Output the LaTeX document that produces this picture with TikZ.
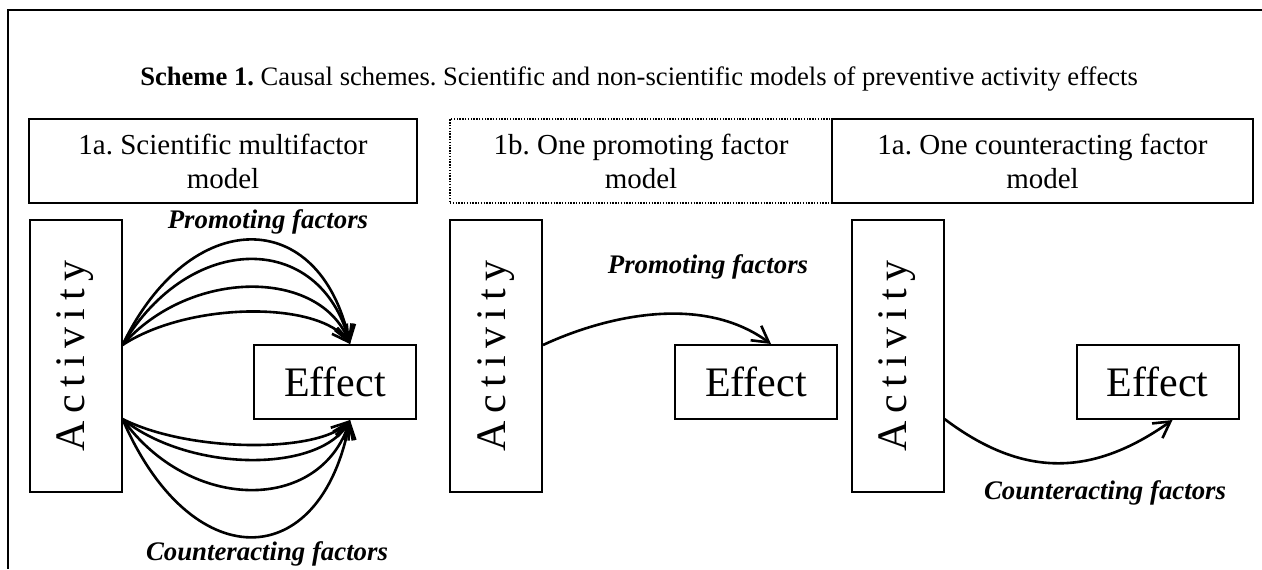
\documentclass[tikz,border=0pt]{standalone}
\usepackage{fontspec}
\setmainfont{Liberation Serif}
\newfontfamily\actfont[LetterSpace=18]{Liberation Serif}
\usepackage{graphicx}
\usetikzlibrary{arrows.meta, positioning, calc}
\frenchspacing

\begin{document}
\begin{tikzpicture}[
    x=0.5pt, y=-0.5pt,
    hdr/.style={draw, line width=1pt, minimum width=#1, minimum height=42pt,
        align=center, font=\fontsize{14.5}{17}\selectfont},
    act/.style={draw, line width=1pt, minimum width=46pt, minimum height=136pt,
        inner sep=0pt, font=\actfont\fontsize{21}{25}\selectfont},
    eff/.style={draw, line width=1pt, minimum width=81pt, minimum height=37pt,
        font=\fontsize{21}{25}\selectfont},
    lbl/.style={font=\fontsize{13.4}{15}\selectfont\bfseries\itshape},
    arr/.style={line width=1.3pt, -{Straight Barb[length=8pt,width=9pt]}}
]
\useasboundingbox (0,0) rectangle (1262,569);
\draw[line width=1pt] (1262,10) -- (8,10) -- (8,569);

\node[font=\fontsize{13.3}{16}\selectfont] (title) at (639,79)
    {\textbf{Scheme 1.} Causal schemes. Scientific and non-scientific models of preventive activity effects};

\node[hdr=194pt] (hd1) at (223,161) {1a. Scientific multifactor\\model};
\node[hdr=191pt, line width=0.8pt, dash pattern=on 0.7pt off 0.7pt] (hd2) at (641,161) {1b. One promoting factor\\model};
\node[hdr=210.5pt] (hd3) at (1042.5,161) {1a. One counteracting factor\\model};

\node[act] (act1) at (75.5,356) {\rotatebox{90}{Activity}};
\node[eff] (eff1) at (335,382) {Effect};
\node[act] (act2) at (496,356) {\rotatebox{90}{Activity}};
\node[eff] (eff2) at (756,382) {Effect};
\node[act] (act3) at (897.5,356) {\rotatebox{90}{Activity}};
\node[eff] (eff3) at (1157.5,382) {Effect};

\node[lbl] (pro1) at (268,222) {Promoting factors};
\node[lbl] (con1) at (267,554) {Counteracting factors};
\node[lbl] (pro2) at (708,267) {Promoting factors};
\node[lbl] (con3) at (1105,493) {Counteracting factors};

\foreach \h in {205,231,268,301}
    \draw[arr] ($(act1.east)+(0,-11)$) .. controls (190,\h) and (320,\h) .. ($(eff1.north)+(15,0)$);
\foreach \h in {453,473,513,576}
    \draw[arr] ($(act1.east)+(0,63)$) .. controls (190,\h) and (320,\h) .. ($(eff1.south)+(15,0)$);

\draw[arr] ($(act2.east)+(0,-11)$) .. controls +(58,-27) and +(-71,-52) .. ($(eff2.north)+(15,0)$);
\draw[arr] ($(act3.east)+(0,63)$) .. controls +(77,58) and +(-82,58) .. ($(eff3.south)+(15,0)$);
\end{tikzpicture}
\end{document}
